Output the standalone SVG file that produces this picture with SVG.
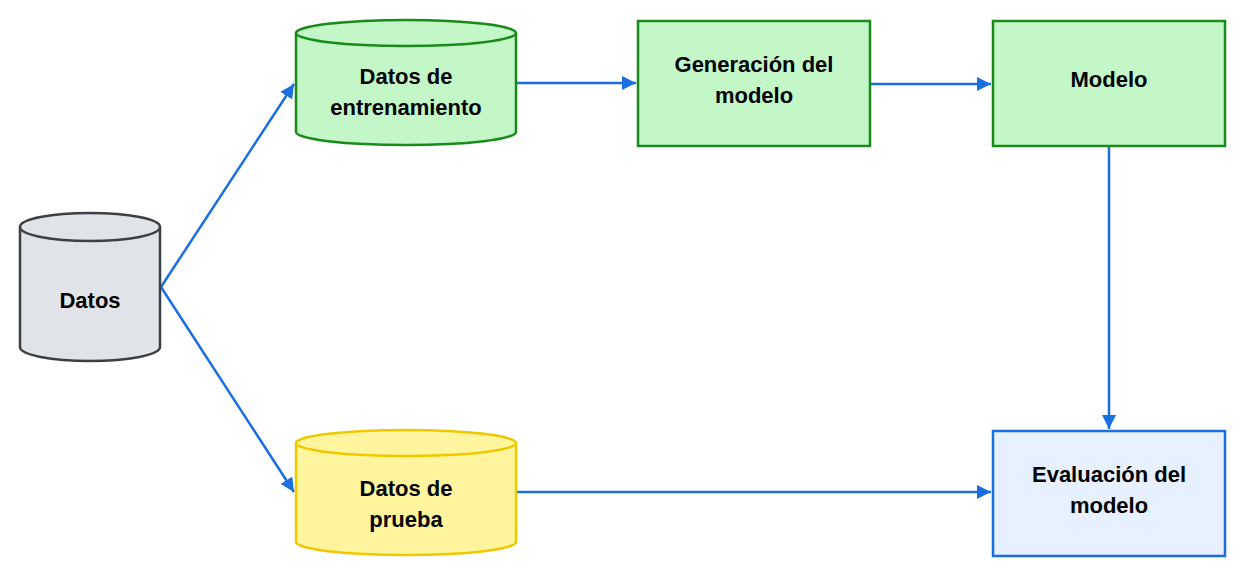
<svg xmlns="http://www.w3.org/2000/svg" width="1245" height="576" viewBox="0 0 1245 576">
<style>
text{font-family:"Liberation Sans",Arial,sans-serif;font-weight:bold;font-size:22px;fill:#000;text-anchor:middle}
.c{stroke:#1a6fe0;stroke-width:2.5;fill:none;marker-end:url(#a)}
</style>
<defs><marker id="a" viewBox="0 0 10 10" refX="9" refY="5" markerWidth="8" markerHeight="8" markerUnits="userSpaceOnUse" orient="auto"><path d="M0,0L10,5L0,10z" fill="#1a6fe0" transform="scale(1)"/></marker>
<marker id="b" viewBox="0 0 10 10" refX="10" refY="5" markerWidth="14" markerHeight="14" orient="auto" markerUnits="userSpaceOnUse"><path d="M0,0L10,5L0,10z" fill="#1a6fe0"/></marker></defs>
<rect width="1245" height="576" fill="#fff"/>
<g id="connectors" fill="none" stroke="#1a6fe0" stroke-width="2.5">
<path d="M161,287L294,84" marker-end="url(#b)"/>
<path d="M161,287L294,492" marker-end="url(#b)"/>
<path d="M516,83L636,83" marker-end="url(#b)"/>
<path d="M870,84L991,84" marker-end="url(#b)"/>
<path d="M1109,147L1109,429" marker-end="url(#b)"/>
<path d="M516,492L991,492" marker-end="url(#b)"/>
</g>
<g id="datos" stroke="#3c3f44" stroke-width="2.5" fill="#e0e3e8">
<path d="M20,227V347A70,14 0 0 0 160,347V227"/>
<ellipse cx="90" cy="227" rx="70" ry="14"/>
<text x="90" y="308" stroke="none">Datos</text></g>
<g id="entrenamiento" stroke="#1a8a1a" stroke-width="2.5" fill="#c3f7c8">
<path d="M296,33V132A110,13 0 0 0 516,132V33"/>
<ellipse cx="406" cy="33" rx="110" ry="13"/>
<text x="406" y="84" stroke="none">Datos de</text><text x="406" y="115" stroke="none">entrenamiento</text></g>
<g id="prueba" stroke="#f0c800" stroke-width="2.5" fill="#fff59e">
<path d="M296,443V542A110,13 0 0 0 516,542V443"/>
<ellipse cx="406" cy="443" rx="110" ry="13"/>
<text x="406" y="496" stroke="none">Datos de</text><text x="406" y="527" stroke="none">prueba</text></g>
<g id="generacion"><rect x="638" y="21" width="232" height="125" fill="#c3f7c8" stroke="#1a8a1a" stroke-width="2.5"/>
<text x="754" y="72">Generación del</text><text x="754" y="103">modelo</text></g>
<g id="modelo"><rect x="993" y="21" width="232" height="125" fill="#c3f7c8" stroke="#1a8a1a" stroke-width="2.5"/>
<text x="1109" y="87">Modelo</text></g>
<g id="evaluacion"><rect x="993" y="431" width="232" height="125" fill="#e6f0ff" stroke="#1a6fe0" stroke-width="2.5"/>
<text x="1109" y="482">Evaluación del</text><text x="1109" y="513">modelo</text></g>
</svg>
